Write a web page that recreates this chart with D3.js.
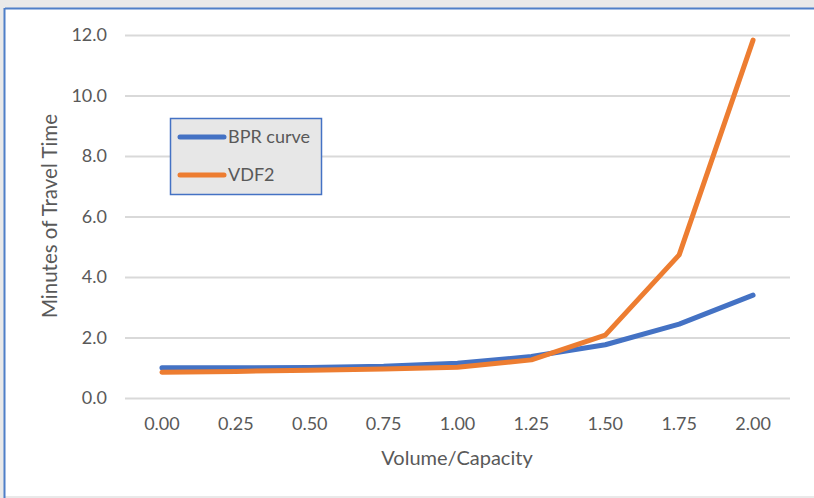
<!DOCTYPE html>
<html><head><meta charset="utf-8">
<script src="https://cdn.jsdelivr.net/npm/d3@7"></script>
<style>
html,body{margin:0;padding:0;background:#e9e9e9;}
svg{display:block;}
</style></head>
<body>
<svg id="chart" width="814" height="498"></svg>
<script>
const categories = ["0.00","0.25","0.50","0.75","1.00","1.25","1.50","1.75","2.00"];
const bprValues  = [1.00, 1.00, 1.01, 1.05, 1.15, 1.37, 1.76, 2.44, 3.40];
const vdf2Values = [0.85, 0.88, 0.92, 0.96, 1.02, 1.26, 2.08, 4.73, 11.83];
const yTicks = [0, 2, 4, 6, 8, 10, 12];
const seriesNames = ["BPR curve", "VDF2"];
const seriesColors = ["#4472c4", "#ed7d31"];

const svg = d3.select("#chart");
const font = "Lato, 'Open Sans', sans-serif";
const textColor = "#595959";

// frame
svg.append("rect").attr("x",0).attr("y",0).attr("width",814).attr("height",498).attr("fill","#e9e9e9");
svg.append("rect").attr("x",5).attr("y",9).attr("width",812).attr("height",487).attr("fill","#ffffff");
svg.append("line").attr("x1",5).attr("x2",814).attr("y1",8.5).attr("y2",8.5).attr("stroke","#4f7fc8").attr("stroke-width",2);
svg.append("line").attr("x1",4.5).attr("x2",4.5).attr("y1",8).attr("y2",498).attr("stroke","#4f7fc8").attr("stroke-width",2);

const x = d3.scaleBand().domain(categories).range([125, 790]);
const y = d3.scaleLinear().domain([0, 12]).range([398, 35]);

// gridlines
svg.append("g").selectAll("line").data(yTicks).join("line")
  .attr("x1",125).attr("x2",790)
  .attr("y1",d=>y(d)+0.5).attr("y2",d=>y(d)+0.5)
  .attr("stroke","#d9d9d9").attr("stroke-width",2);

// y axis labels
const yAxis = d3.axisLeft(y).tickValues(yTicks).tickFormat(d3.format(".1f")).tickSize(0).tickPadding(0);
const gy = svg.append("g").attr("transform","translate(107,0)").call(yAxis);
gy.select(".domain").remove();
gy.selectAll("text").attr("font-family",font).attr("font-size",18).attr("fill",textColor);

// x axis labels
const xAxis = d3.axisBottom(x).tickSize(0).tickPadding(0);
const gx = svg.append("g").attr("transform","translate(0,417)").call(xAxis);
gx.select(".domain").remove();
gx.selectAll("text").attr("font-family",font).attr("font-size",18).attr("fill",textColor);

// axis titles
svg.append("text").attr("x",457).attr("y",465).attr("text-anchor","middle")
  .attr("font-family",font).attr("font-size",20).attr("fill",textColor).text("Volume/Capacity");
svg.append("text").attr("transform","translate(57,216) rotate(-90)").attr("text-anchor","middle")
  .attr("font-family",font).attr("font-size",20.5).attr("fill",textColor).text("Minutes of Travel Time");

// lines
const line = d3.line().x((d,i)=>x(categories[i]) + x.bandwidth()/2).y(d=>y(d));
[bprValues, vdf2Values].forEach((vals, k) => {
  svg.append("path").datum(vals).attr("d", line)
    .attr("fill","none").attr("stroke",seriesColors[k]).attr("stroke-width",5)
    .attr("stroke-linecap","round").attr("stroke-linejoin","round");
});

// legend
const lg = svg.append("g");
lg.append("rect").attr("x",170.5).attr("y",118.5).attr("width",151).attr("height",76)
  .attr("fill","#e7e7e7").attr("stroke","#4472c4").attr("stroke-width",1.5);
seriesNames.forEach((name,k)=>{
  const yy = 137 + k*38;
  lg.append("line").attr("x1",180).attr("x2",224).attr("y1",yy).attr("y2",yy)
    .attr("stroke",seriesColors[k]).attr("stroke-width",5).attr("stroke-linecap","round");
  lg.append("text").attr("x",228).attr("y",yy+6).attr("font-family",font).attr("font-size",18)
    .attr("fill",textColor).text(name);
});
</script>
</body></html>
